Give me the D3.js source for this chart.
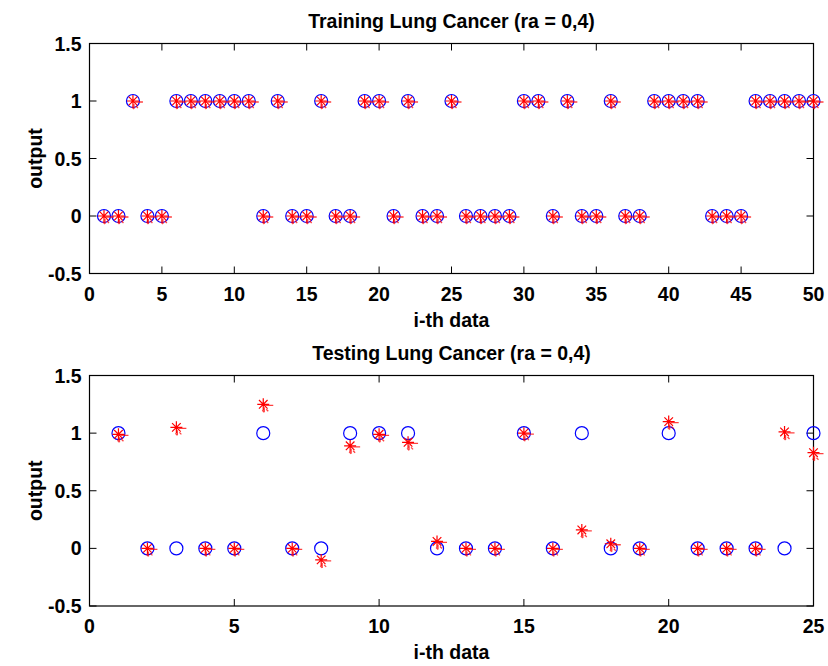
<!DOCTYPE html>
<html>
<head>
<meta charset="utf-8">
<script src="https://cdn.jsdelivr.net/npm/d3@7"></script>
<style>
  body { margin: 0; background: #fff; }
  svg text { font-family: "Liberation Sans", Arial, sans-serif; font-weight: bold; fill: #000; }
</style>
</head>
<body>
<svg id="fig" width="828" height="666"></svg>
<script>
// training set: target and output are identical
var trainTarget = [0,0,1,0,0,1,1,1,1,1, 1,0,1,0,0,1,0,0,1,1, 0,1,0,0,1,0,0,0,0,1,
                   1,0,1,0,0,1,0,0,1,1, 1,1,0,0,0,1,1,1,1,1]
var trainOutput = [0,0,1,0,0,1,1,1,1,1, 1,0,1,0,0,1,0,0,1,1, 0,1,0,0,1,0,0,0,0,1,
                   1,0,1,0,0,1,0,0,1,1, 1,1,0,0,0,1,1,1,1,1]

var testTarget = [1,0,0,0,0,1,0,0,1,1, 1,0,0,0,1,0,1,0,0,1, 0,0,0,0,1]
var testOutput = [0.99,0,1.05,0,0,1.25,0,-0.1,0.89,0.99, 0.92,0.06,0,0,1.0,0,0.16,0.04,0,1.1,
                  0,0,0,1.01,0.83]

var yTicks = [-0.5, 0, 0.5, 1, 1.5]
var trainXTicks = [0,5,10,15,20,25,30,35,40,45,50]
var testXTicks = [0,5,10,15,20,25]

var svg = d3.select('#fig')
var left = 89.5, right = 813.5, tickLen = 7
var fs = 19.5

function drawPanel(top, bottom, title, target, output, xMax, xTicks) {
    var x = d3.scaleLinear().domain([0, xMax]).range([left, right])
    var y = d3.scaleLinear().domain([-0.5, 1.5]).range([bottom, top])
    var g = svg.append('g')

    // box
    g.append('rect')
        .attr('x', left).attr('y', top)
        .attr('width', right - left).attr('height', bottom - top)
        .attr('fill', 'none').attr('stroke', '#000').attr('stroke-width', 1.2)

    // ticks on all four sides, pointing in
    xTicks.forEach(function (t) {
        g.append('line').attr('x1', x(t)).attr('x2', x(t))
            .attr('y1', bottom).attr('y2', bottom - tickLen)
            .attr('stroke', '#000')
        g.append('line').attr('x1', x(t)).attr('x2', x(t))
            .attr('y1', top).attr('y2', top + tickLen)
            .attr('stroke', '#000')
        g.append('text').text(t)
            .attr('x', x(t)).attr('y', bottom + 27)
            .attr('text-anchor', 'middle').attr('font-size', fs)
    })
    yTicks.forEach(function (t) {
        g.append('line').attr('x1', left).attr('x2', left + tickLen)
            .attr('y1', y(t)).attr('y2', y(t)).attr('stroke', '#000')
        g.append('line').attr('x1', right).attr('x2', right - tickLen)
            .attr('y1', y(t)).attr('y2', y(t)).attr('stroke', '#000')
        g.append('text').text(t)
            .attr('x', left - 8).attr('y', y(t) + 7)
            .attr('text-anchor', 'end').attr('font-size', fs)
    })

    // target: blue circles
    g.selectAll('circle.target')
        .data(target)
        .enter()
        .append('circle')
        .attr('cx', function (d, i) { return x(i + 1) })
        .attr('cy', function (d) { return y(d) })
        .attr('r', 6.5)
        .attr('fill', 'none')
        .attr('stroke', '#0000ff')
        .attr('stroke-width', 1.2)

    // output: red asterisks (plus the faint offset smear of the original)
    var star = 'M-6,0H6M0,-6V6M-4.3,-4.3L4.3,4.3M-4.3,4.3L4.3,-4.3'
    g.selectAll('path.ghost')
        .data(output)
        .enter()
        .append('path')
        .attr('d', 'M2,1H10M1,3V8M-1,6L1,8M3,5L5,7')
        .attr('transform', function (d, i) { return 'translate(' + x(i + 1) + ',' + y(d) + ')' })
        .attr('stroke', '#ff0000')
        .attr('stroke-opacity', 0.75)
        .attr('stroke-width', 1.3)
        .attr('fill', 'none')
    g.selectAll('path.star')
        .data(output)
        .enter()
        .append('path')
        .attr('d', star)
        .attr('transform', function (d, i) { return 'translate(' + x(i + 1) + ',' + y(d) + ')' })
        .attr('stroke', '#ff0000')
        .attr('stroke-width', 1.2)
        .attr('fill', 'none')

    // labels
    g.append('text').text(title)
        .attr('x', (left + right) / 2).attr('y', top - 16)
        .attr('text-anchor', 'middle').attr('font-size', fs)
    g.append('text').text('i-th data')
        .attr('x', (left + right) / 2).attr('y', bottom + 53)
        .attr('text-anchor', 'middle').attr('font-size', fs)
    g.append('text').text('output')
        .attr('transform', 'translate(42,' + (top + bottom) / 2 + ') rotate(-90)')
        .attr('text-anchor', 'middle').attr('font-size', fs)
}

drawPanel(43.5, 273.5, 'Training Lung Cancer (ra = 0,4)', trainTarget, trainOutput, 50, trainXTicks)
drawPanel(375.5, 606, 'Testing Lung Cancer (ra = 0,4)', testTarget, testOutput, 25, testXTicks)
</script>
</body>
</html>
